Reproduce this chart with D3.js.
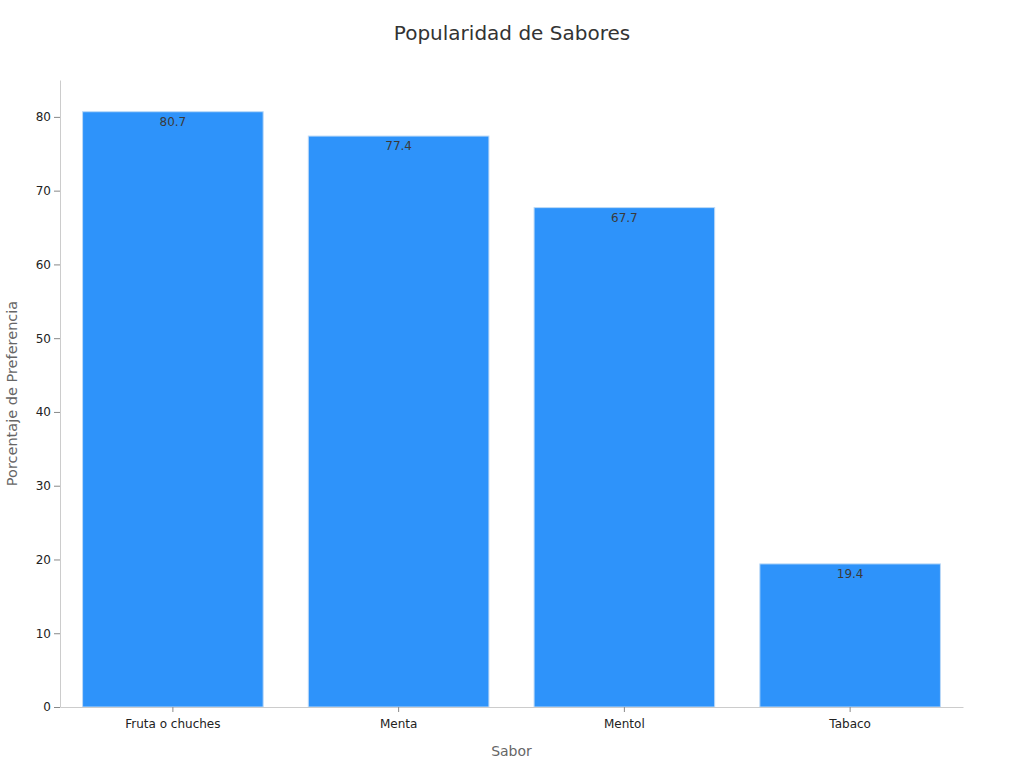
<!DOCTYPE html>
<html>
<head>
<meta charset="utf-8">
<script src="https://cdn.jsdelivr.net/npm/d3@7"></script>
<style>
  body { margin: 0; background: #fff; }
  svg text { font-family: "DejaVu Sans", sans-serif; }
</style>
</head>
<body>
<svg id="chart" width="1024" height="768"></svg>
<script>
var sabores = ['Fruta o chuches', 'Menta', 'Mentol', 'Tabaco']
var porcentajes = [80.7, 77.4, 67.7, 19.4]
var yTicks = [0, 10, 20, 30, 40, 50, 60, 70, 80]

;(function () {
  var width = 1024; var height = 768
  var margin = { top: 80, right: 61, bottom: 61, left: 60 }

  var svg = d3.select('#chart')
    .attr('width', width)
    .attr('height', height)

  var datapoints = sabores.map(function (s, i) {
    return { sabor: s, valor: porcentajes[i] }
  })

  var xScale = d3.scaleBand()
    .domain(sabores)
    .range([margin.left, width - margin.right])
    .paddingInner(0.2)
    .paddingOuter(0.1)

  var yScale = d3.scaleLinear()
    .domain([0, 85])
    .range([height - margin.bottom, margin.top])

  // bars
  svg.selectAll('rect.bar')
    .data(datapoints)
    .enter().append('rect')
    .attr('class', 'bar')
    .attr('x', d => xScale(d.sabor))
    .attr('y', d => yScale(d.valor))
    .attr('width', xScale.bandwidth())
    .attr('height', d => yScale(0) - yScale(d.valor))
    .attr('fill', '#2E93FA')
    .attr('stroke', '#bcd9f7')
    .attr('stroke-width', 1)

  // value labels
  svg.selectAll('text.label')
    .data(datapoints)
    .enter().append('text')
    .attr('class', 'label')
    .attr('x', d => xScale(d.sabor) + xScale.bandwidth() / 2)
    .attr('y', d => yScale(d.valor) + 14)
    .attr('text-anchor', 'middle')
    .attr('font-size', 12)
    .attr('fill', '#3a3a3a')
    .text(d => d.valor)

  // axes
  var xAxis = d3.axisBottom(xScale).tickSize(5).tickSizeOuter(0)
  var gx = svg.append('g')
    .attr('transform', 'translate(0,' + yScale(0) + ')')
    .call(xAxis)
  gx.select('.domain').attr('stroke', '#ccc')
  gx.selectAll('.tick line').attr('stroke', '#888')
  gx.selectAll('.tick text')
    .attr('font-size', 12)
    .attr('fill', '#222')
    .attr('dy', '1.05em')

  var yAxis = d3.axisLeft(yScale).tickValues(yTicks).tickSize(6).tickSizeOuter(0)
  var gy = svg.append('g')
    .attr('transform', 'translate(' + margin.left + ',0)')
    .call(yAxis)
  gy.select('.domain').attr('stroke', '#ccc')
  gy.selectAll('.tick line').attr('stroke', '#888')
  gy.selectAll('.tick text')
    .attr('font-size', 12)
    .attr('fill', '#222')

  // titles
  svg.append('text')
    .attr('x', width / 2)
    .attr('y', 40)
    .attr('text-anchor', 'middle')
    .attr('font-size', 20)
    .attr('fill', '#333')
    .text('Popularidad de Sabores')

  svg.append('text')
    .attr('x', (margin.left + width - margin.right) / 2)
    .attr('y', 756)
    .attr('text-anchor', 'middle')
    .attr('font-size', 14)
    .attr('fill', '#666')
    .text('Sabor')

  svg.append('text')
    .attr('transform', 'translate(17,' + yScale(42.5) + ') rotate(-90)')
    .attr('text-anchor', 'middle')
    .attr('font-size', 14.5)
    .attr('fill', '#666')
    .text('Porcentaje de Preferencia')
})()
</script>
</body>
</html>
